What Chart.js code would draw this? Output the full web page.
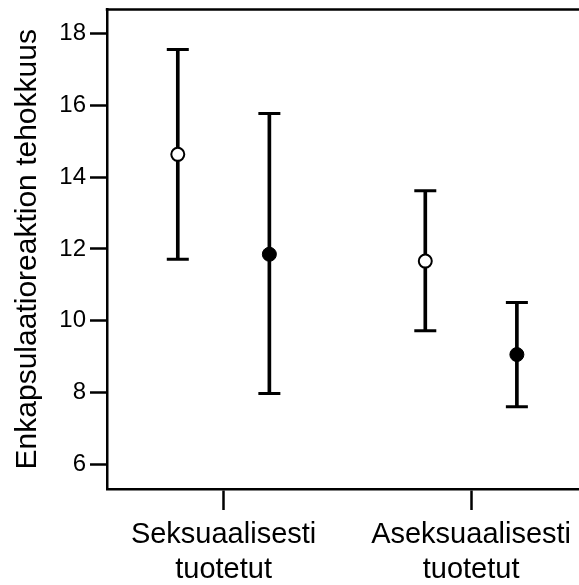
<!DOCTYPE html>
<html>
<head>
<meta charset="utf-8">
<script src="https://cdn.jsdelivr.net/npm/chart.js@4"></script>
<style>
  body { margin: 0; background: #ffffff; }
  #wrap { width: 579px; height: 585px; }
</style>
</head>
<body>
<div id="wrap"><canvas id="grafico" width="579" height="585"></canvas></div>
<script>
// Datos
const categorias = [["Seksuaalisesti", "tuotetut"], ["Aseksuaalisesti", "tuotetut"]];
const avoinKeski = [14.63, 11.66];
const avoinAla = [11.71, 9.72];
const avoinYla = [17.55, 13.62];
const umpiKeski = [11.85, 9.06];
const umpiAla = [7.98, 7.61];
const umpiYla = [15.77, 10.51];
const yTicks = [6, 8, 10, 12, 14, 16, 18];

// Desplazamiento horizontal de cada serie respecto al centro del grupo
const desp = 0.185;
const posX = (i, lado) => i + 1 + lado * desp;

Chart.defaults.font.family = "'Liberation Sans', Arial, sans-serif";
Chart.defaults.color = "#000000";

function barras(ala, yla, lado) {
  return {
    type: "bar",
    data: ala.map((v, i) => ({ x: posX(i, lado), y: [v, yla[i]] })),
    backgroundColor: "#000000",
    barThickness: 3,
    grouped: false,
    order: 3,
  };
}

function tapas(vals, lado) {
  return {
    type: "scatter",
    data: vals.map((v, i) => ({ x: posX(i, lado), y: v })),
    pointStyle: "line",
    pointRadius: 11,
    borderColor: "#000000",
    borderWidth: 3,
    order: 2,
  };
}

// Línea superior del marco
const marcoSuperior = {
  id: "marcoSuperior",
  afterDraw(chart) {
    const { ctx, chartArea } = chart;
    ctx.save();
    ctx.strokeStyle = "#000000";
    ctx.lineWidth = 2.5;
    ctx.beginPath();
    ctx.moveTo(chartArea.left - 1.25, chartArea.top);
    ctx.lineTo(chartArea.right, chartArea.top);
    ctx.stroke();
    ctx.restore();
  },
};

new Chart(document.getElementById("grafico"), {
  type: "scatter",
  data: {
    datasets: [
      barras(avoinAla, avoinYla, -1),
      barras(umpiAla, umpiYla, 1),
      tapas(avoinAla, -1),
      tapas(avoinYla, -1),
      tapas(umpiAla, 1),
      tapas(umpiYla, 1),
      {
        data: avoinKeski.map((v, i) => ({ x: posX(i, -1), y: v })),
        pointRadius: 6.5,
        backgroundColor: "#ffffff",
        borderColor: "#000000",
        borderWidth: 2,
        order: 1,
      },
      {
        data: umpiKeski.map((v, i) => ({ x: posX(i, 1), y: v })),
        pointRadius: 7,
        backgroundColor: "#000000",
        borderColor: "#000000",
        borderWidth: 1,
        order: 1,
      },
    ],
  },
  options: {
    responsive: false,
    animation: false,
    layout: { autoPadding: false, padding: { top: 9.5, right: 0, left: 0, bottom: 0 } },
    plugins: { legend: { display: false }, tooltip: { enabled: false } },
    scales: {
      x: {
        type: "linear",
        min: 0.529,
        max: 2.436,
        offset: false,
        afterFit: (s) => {
          s.height = 96;
          s.paddingLeft = 0;
          s.paddingRight = 0;
        },
        afterBuildTicks: (s) => { s.ticks = categorias.map((c, i) => ({ value: i + 1 })); },
        ticks: {
          autoSkip: false,
          maxRotation: 0,
          padding: 8,
          font: { size: 29 },
          callback: (v) => categorias[v - 1],
        },
        grid: {
          offset: false,
          drawOnChartArea: false,
          drawTicks: true,
          tickLength: 21,
          tickColor: "#000000",
          tickWidth: 2.5,
        },
        border: { display: true, color: "#000000", width: 2.5 },
      },
      y: {
        min: 5.32,
        max: 18.66,
        afterFit: (s) => {
          s.width = 107;
          s.paddingTop = 0;
          s.paddingBottom = 0;
        },
        afterBuildTicks: (s) => { s.ticks = yTicks.map((v) => ({ value: v })); },
        ticks: { padding: 4, font: { size: 24 } },
        grid: {
          drawOnChartArea: false,
          drawTicks: true,
          tickLength: 17,
          tickColor: "#000000",
          tickWidth: 2.5,
        },
        border: { display: true, color: "#000000", width: 2.5 },
        title: {
          display: true,
          text: "Enkapsulaatioreaktion tehokkuus",
          font: { size: 30 },
          padding: { top: 10, bottom: 0 },
        },
      },
    },
  },
  plugins: [marcoSuperior],
});
</script>
</body>
</html>
